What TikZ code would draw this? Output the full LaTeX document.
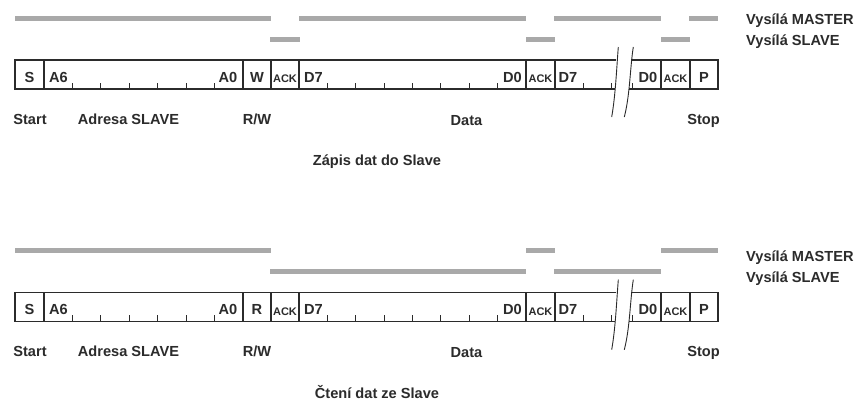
\documentclass[tikz,border=0pt]{standalone}
\usepackage{fontspec}
\setmainfont{Liberation Sans}
\definecolor{ink}{HTML}{2B2B2B}
\definecolor{barg}{HTML}{A9A9A9}
\tikzset{
  frame/.style={draw=ink, line width=1.3bp},
  tickline/.style={draw=ink, line width=1bp},
  brk/.style={draw=ink, line width=0.9bp},
  masterbar/.style={draw=barg, line width=5bp},
  slavebar/.style={draw=barg, line width=5bp},
  lbl/.style={inner sep=0, text=ink, font=\fontsize{14.6bp}{17bp}\selectfont\bfseries},
  acklbl/.style={inner sep=0, text=ink, font=\fontsize{11bp}{13bp}\selectfont\bfseries},
}
% one I2C byte frame: #1 vertical shift, #2 R/W bit, #3 name prefix, #4 caption
\newcommand\protoframe[4]{%
  \begin{scope}[yshift=#1]
    % outer frame, interrupted at the break
    \draw[frame] (616,60) -- (15,60) -- (15,89) -- (614.5,89);
    \draw[frame] (631,60) -- (718,60) -- (718,89) -- (629.2,89);
    % cell dividers
    \foreach \x in {44,243,271,299,526,555,661,690}
      \draw[frame] (\x,60) -- (\x,89);
    % bit ticks
    \foreach \x in {72.4,100.9,129.3,157.7,186.1,214.6,
                    327.4,355.8,384.1,412.5,440.9,469.3,497.6,
                    583.4,611.5,632.5}
      \draw[tickline] (\x,89) -- (\x,82.5);
    % break marks
    \draw[brk] (618.3,47) .. controls (616.5,70) and (615.5,95) .. (611.7,117);
    \draw[brk] (633.3,47) .. controls (630,68) and (630,95) .. (624.3,117);
    % cell contents
    \node[lbl, anchor=base]      (#3s)    at (29.5,82)  {S};
    \node[lbl, anchor=base west] (#3a6)   at (49,82)    {A6};
    \node[lbl, anchor=base east] (#3a0)   at (237.5,82) {A0};
    \node[lbl, anchor=base]      (#3rw)   at (257,82)   {#2};
    \node[acklbl, anchor=base]   (#3ack1) at (285,82.5) {ACK};
    \node[lbl, anchor=base west] (#3d7a)  at (304,82)   {D7};
    \node[lbl, anchor=base east] (#3d0a)  at (522,82)   {D0};
    \node[acklbl, anchor=base]   (#3ack2) at (540.5,82.5) {ACK};
    \node[lbl, anchor=base west] (#3d7b)  at (558.5,82) {D7};
    \node[lbl, anchor=base east] (#3d0b)  at (657.5,82) {D0};
    \node[acklbl, anchor=base]   (#3ack3) at (675.5,82.5) {ACK};
    \node[lbl, anchor=base]      (#3p)    at (704,82)   {P};
    % field labels
    \node[lbl, anchor=base] (#3start) at (30,124)    {Start};
    \node[lbl, anchor=base] (#3addr)  at (128.5,124) {Adresa SLAVE};
    \node[lbl, anchor=base] (#3rwl)   at (257,124)   {R/W};
    \node[lbl, anchor=base] (#3data)  at (466.5,125) {Data};
    \node[lbl, anchor=base] (#3stop)  at (703.5,124) {Stop};
    \node[lbl, anchor=base] (#3title) at (377,165.5) {#4};
  \end{scope}}

\begin{document}
\begin{tikzpicture}[x=1bp, y=-1bp]
  \useasboundingbox (0,0) rectangle (859,400);
  \fill[white] (0,0) rectangle (859,400);

  % write transfer
  \protoframe{0bp}{W}{w}{Zápis dat do Slave}
  \draw[masterbar] (15,18.5) -- (271,18.5);
  \draw[masterbar] (299,18.5) -- (526,18.5);
  \draw[masterbar] (554,18.5) -- (661,18.5);
  \draw[masterbar] (689,18.5) -- (718,18.5);
  \draw[slavebar] (270,39.5) -- (300,39.5);
  \draw[slavebar] (526,39.5) -- (555,39.5);
  \draw[slavebar] (661,39.5) -- (690,39.5);
  \node[lbl, anchor=base west] (wm) at (746,24) {Vysílá MASTER};
  \node[lbl, anchor=base west] (ws) at (746,45) {Vysílá SLAVE};

  % read transfer
  \protoframe{-232.7bp}{R}{r}{Čtení dat ze Slave}
  \begin{scope}[yshift=-231.9bp]
    \draw[masterbar] (15,18.5) -- (271,18.5);
    \draw[masterbar] (526,18.5) -- (555,18.5);
    \draw[masterbar] (661,18.5) -- (718,18.5);
    \draw[slavebar] (270,39.5) -- (526,39.5);
    \draw[slavebar] (554,39.5) -- (661,39.5);
  \end{scope}
  \node[lbl, anchor=base west] (rm) at (746,261.5) {Vysílá MASTER};
  \node[lbl, anchor=base west] (rs) at (746,282.5) {Vysílá SLAVE};
\end{tikzpicture}
\end{document}
